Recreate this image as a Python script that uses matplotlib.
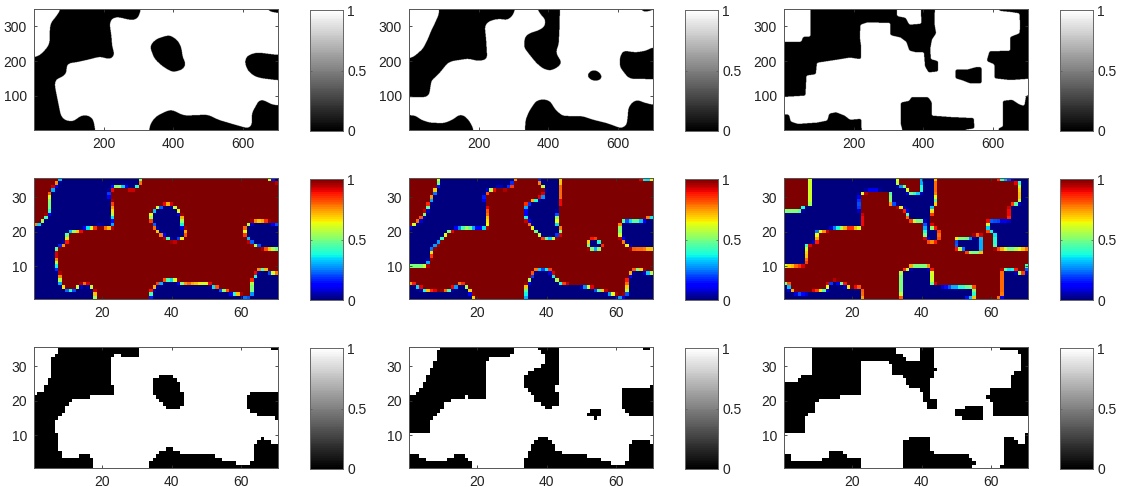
import numpy as np
import matplotlib
matplotlib.use("Agg")
import matplotlib.pyplot as plt
from matplotlib.path import Path

plt.rcParams['font.family'] = ['Liberation Sans', 'DejaVu Sans']

# Black-region outlines of the three 700 x 350 binary fields (x, y in field units)
field_a = [
    [(90,350),(313,350),(300,325),(290,318),(270,320),(240,328),(220,322),(218,300),(222,280),(225,240),
     (232,220),(225,205),(210,207),(190,213),(160,205),(120,196),(93,193),(95,165),(85,155),(62,148),
     (60,130),(70,80),(78,40),(90,28),(115,25),(130,40),(150,45),(170,35),(180,1),(1,1),(1,205),(15,215),
     (35,235),(45,250),(45,280),(48,310),(65,330)],
    [(325,1),(335,20),(350,40),(380,55),(395,60),(415,50),(430,42),(500,45),(530,30),(570,18),(615,5),
     (625,10),(625,50),(640,75),(645,90),(665,85),(680,75),(700,68),(700,1)],
    [(700,215),(665,222),(640,225),(610,215),(605,195),(615,170),(635,155),(655,150),(700,142)],
    [(332,245),(351,264),(390,276),(414,259),(423,240),(428,206),(437,196),(431,177),(399,167),(370,184),
     (346,206),(337,230)],
    [(655,350),(670,345),(695,340),(700,335),(700,350)],
]
field_b = [
    [(86,350),(311,350),(300,335),(292,325),(280,318),(265,322),(245,320),(225,312),(218,300),(222,260),
     (225,205),(200,200),(170,207),(125,200),(112,195),(100,180),(92,170),(75,152),(65,145),(62,125),
     (58,100),(45,95),(1,95),(1,200),(15,213),(40,235),(55,265),(65,290),(75,310),(86,335)],
    [(356,350),(434,350),(432,290),(430,250),(422,225),(430,210),(440,195),(425,180),(405,172),(385,178),
     (365,195),(345,220),(330,240),(333,270),(345,280),(375,290),(390,300),(392,320),(378,335)],
    [(510,160),(525,174),(542,172),(556,155),(550,145),(530,142),(516,150)],
    [(700,250),(681,230),(652,225),(614,230),(606,211),(606,182),(628,153),(638,149),(700,147)],
    [(1,45),(20,42),(35,30),(60,22),(100,20),(125,30),(145,45),(160,42),(175,25),(185,5),(190,1),(1,1)],
    [(332,1),(335,30),(345,55),(365,85),(385,90),(405,85),(420,60),(440,42),(475,40),(500,40),(530,30),
     (570,20),(610,5),(625,15),(628,40),(630,65),(640,80),(655,88),(675,80),(700,68),(700,1)],
    [(655,350),(670,342),(695,345),(700,350)],
]
field_c = [
    [(76,350),(325,350),(325,330),(350,325),(360,305),(395,308),(392,350),(434,350),(432,310),(437,280),
     (425,262),(420,235),(422,205),(443,200),(443,170),(415,167),(405,185),(402,225),
     (380,225),(360,230),(352,255),(335,268),(305,275),(305,310),(240,312),(220,305),(218,270),(222,240),
     (222,205),(190,210),(160,205),(95,195),(92,162),(65,158),(62,100),(1,95),(1,255),(50,255),(55,270),(76,270)],
    [(1,45),(15,45),(20,25),(40,18),(95,22),(125,28),(130,48),(150,52),(175,42),(190,30),(222,33),(224,1),(1,1)],
    [(345,1),(335,20),(335,80),(360,85),(365,95),(415,95),(425,80),(425,42),(480,38),(545,35),(547,5)],
    [(700,1),(610,3),(628,10),(628,30),(628,85),(655,88),(675,75),(690,70),(695,100),(700,108)],
    [(492,175),(525,175),(550,182),(567,182),(568,135),(535,135),(510,145),(492,150)],
    [(700,350),(600,350),(620,345),(650,342),(676,338),(678,300),(676,280),(650,270),(650,230),(590,228),
     (582,200),(605,190),(605,150),(650,145),(700,150)],
]
fields = [field_a, field_b, field_c]
round_size = [9, 7, 3]

xticks_fine = [200, 400, 600]
yticks_fine = [100, 200, 300]
xticks_coarse = [20, 40, 60]
yticks_coarse = [10, 20, 30]
cbar_ticks = [0, 0.5, 1]
cbar_labels = ['0', '0.5', '1']

W, H = 1122, 487
col_left = [34, 409, 784]
cbar_left = [310, 685, 1060]
row_top = [9, 178, 347]
ax_w, ax_h = 244, 121
cb_w = 33


def rect(left, top, w, h):
    return [left / W, 1 - (top + h) / H, w / W, h / H]


def box(a, r, axis):
    a = np.moveaxis(a, axis, 0)
    p = np.pad(a, ((r + 1, r), (0, 0)), mode='edge')
    c = np.cumsum(p, axis=0)
    out = (c[2 * r + 1:] - c[:-(2 * r + 1)]) / (2 * r + 1)
    return np.moveaxis(out, 0, axis)


def rasterize(polys, r):
    gx, gy = np.meshgrid(np.arange(1, 701), np.arange(1, 351))
    pts = np.column_stack([gx.ravel(), gy.ravel()])
    img = np.ones(pts.shape[0], dtype=float)
    for poly in polys:
        v = np.array(poly + [poly[0]], dtype=float)
        # outlines on the field border are pushed outwards so border pixels count as inside
        v[v[:, 0] <= 1, 0] = -20
        v[v[:, 0] >= 700, 0] = 720
        v[v[:, 1] <= 1, 1] = -20
        v[v[:, 1] >= 350, 1] = 370
        img[Path(v).contains_points(pts)] = 0.0
    img = img.reshape(350, 700)
    s = box(box(img, r, 0), r, 1)
    s = box(box(s, r, 0), r, 1)
    return (s >= 0.5).astype(float)


def style(ax, xt, yt):
    ax.set_xticks(xt)
    ax.set_yticks(yt)
    ax.tick_params(direction='in', length=2.5, width=0.6, color='#333333',
                   labelsize=10, labelcolor='#222222', pad=5, top=True, right=True)
    for s in ax.spines.values():
        s.set_linewidth(0.7)
        s.set_color('#555555')


def add_cbar(fig, left, top, cmap):
    cax = fig.add_axes(rect(left, top + 1, cb_w, ax_h))
    grad = np.linspace(0, 1, 64).reshape(-1, 1)
    cax.imshow(grad, origin='lower', aspect='auto', cmap=cmap, vmin=0, vmax=1,
               extent=(0, 1, 0, 1), interpolation='nearest')
    cax.set_xticks([])
    cax.yaxis.tick_right()
    cax.set_yticks(cbar_ticks)
    cax.set_yticklabels(cbar_labels)
    cax.tick_params(direction='in', length=1.5, width=0.5, color='#555555', left=True, right=True,
                    labelsize=10, labelcolor='#222222', pad=3)
    for s in cax.spines.values():
        s.set_linewidth(0.7)
        s.set_color('#666666')


fig = plt.figure(figsize=(W / 100, H / 100), dpi=100, facecolor='white')

for c, polys in enumerate(fields):
    fine = rasterize(polys, round_size[c])
    coarse = fine.reshape(35, 10, 70, 10).mean(axis=(1, 3))
    binary = (coarse >= 0.5).astype(float)

    ax = fig.add_axes(rect(col_left[c], row_top[0], ax_w, ax_h))
    ax.imshow(fine, origin='lower', aspect='auto', cmap='gray', vmin=0, vmax=1,
              extent=(0.5, 700.5, 0.5, 350.5), interpolation='antialiased')
    style(ax, xticks_fine, yticks_fine)
    add_cbar(fig, cbar_left[c], row_top[0], 'gray')

    ax = fig.add_axes(rect(col_left[c], row_top[1], ax_w, ax_h))
    ax.imshow(coarse, origin='lower', aspect='auto', cmap='jet', vmin=0, vmax=1,
              extent=(0.5, 70.5, 0.5, 35.5), interpolation='nearest')
    style(ax, xticks_coarse, yticks_coarse)
    add_cbar(fig, cbar_left[c], row_top[1], 'jet')

    ax = fig.add_axes(rect(col_left[c], row_top[2], ax_w, ax_h))
    ax.imshow(binary, origin='lower', aspect='auto', cmap='gray', vmin=0, vmax=1,
              extent=(0.5, 70.5, 0.5, 35.5), interpolation='nearest')
    style(ax, xticks_coarse, yticks_coarse)
    add_cbar(fig, cbar_left[c], row_top[2], 'gray')

fig.savefig('out.png', dpi=100, facecolor='white')
